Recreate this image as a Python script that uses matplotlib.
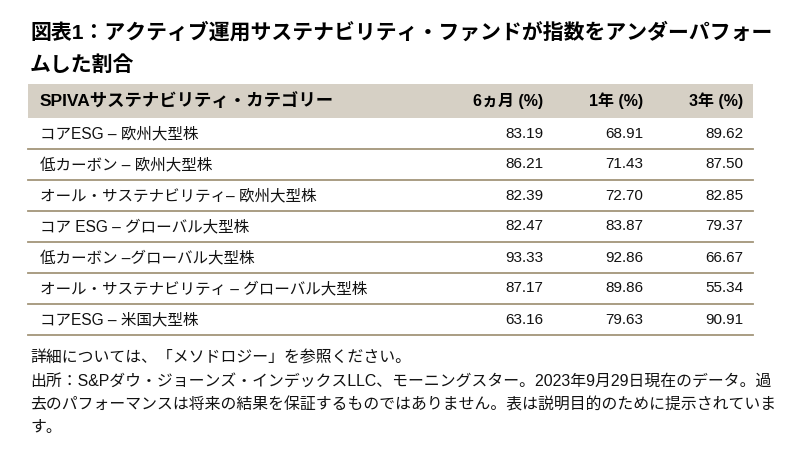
import matplotlib.pyplot as plt
from matplotlib.patches import Rectangle

plt.rcParams['font.family'] = ['Liberation Sans', 'Noto Sans CJK JP', 'DejaVu Sans']

title_lines = ["図表1：アクティブ運用サステナビリティ・ファンドが指数をアンダーパフォー",
               "ムした割合"]
col_headers = ["SPIVAサステナビリティ・カテゴリー", "6ヵ月 (%)", "1年 (%)", "3年 (%)"]
categories = ["コアESG – 欧州大型株",
              "低カーボン – 欧州大型株",
              "オール・サステナビリティ– 欧州大型株",
              "コア ESG – グローバル大型株",
              "低カーボン –グローバル大型株",
              "オール・サステナビリティ – グローバル大型株",
              "コアESG – 米国大型株"]
six_month = [83.19, 86.21, 82.39, 82.47, 93.33, 87.17, 63.16]
one_year = [68.91, 71.43, 72.70, 83.87, 92.86, 89.86, 79.63]
three_year = [89.62, 87.50, 82.85, 79.37, 66.67, 55.34, 90.91]
notes = ["詳細については、「メソドロジー」を参照ください。",
         "出所：S&Pダウ・ジョーンズ・インデックスLLC、モーニングスター。2023年9月29日現在のデータ。過",
         "去のパフォーマンスは将来の結果を保証するものではありません。表は説明目的のために提示されていま",
         "す。"]

W, H = 802, 468
fig = plt.figure(figsize=(W / 100, H / 100), dpi=100)
ax = fig.add_axes([0, 0, 1, 1])
ax.set_xlim(0, W)
ax.set_ylim(H, 0)
ax.axis('off')

# title
for i, line in enumerate(title_lines):
    ax.text(30, 32 + i * 33, line, fontsize=15, fontweight='bold', va='center', ha='left')

# table layout
left, right = 28, 753
head_top, head_h, row_h = 84, 34, 31
col_right = [543, 643, 743]

ax.add_patch(Rectangle((left, head_top), right - left, head_h, facecolor='#d6d0c5', edgecolor='none'))
hy = head_top + head_h / 2
ax.text(40, hy, col_headers[0], fontsize=12.5, fontweight='bold', va='center', ha='left')
for x, lab in zip(col_right, col_headers[1:]):
    ax.text(x, hy, lab, fontsize=11.5, fontweight='bold', va='center', ha='right')

y0 = head_top + head_h
for i, cat in enumerate(categories):
    yc = y0 + i * row_h + row_h / 2
    ax.text(40, yc, cat, fontsize=11.2, va='center', ha='left', color='#111111')
    for x, v in zip(col_right, [six_month[i], one_year[i], three_year[i]]):
        ax.text(x, yc, f"{v:.2f}", fontsize=11, va='center', ha='right', color='#111111')
    ax.plot([left, right], [y0 + (i + 1) * row_h] * 2, color='#a3957a', lw=1.3)

# footnotes
for i, line in enumerate(notes):
    ax.text(30, 358 + i * 23.3, line, fontsize=11.4, va='center', ha='left', color='#111111')

fig.savefig('out.png', dpi=100)
